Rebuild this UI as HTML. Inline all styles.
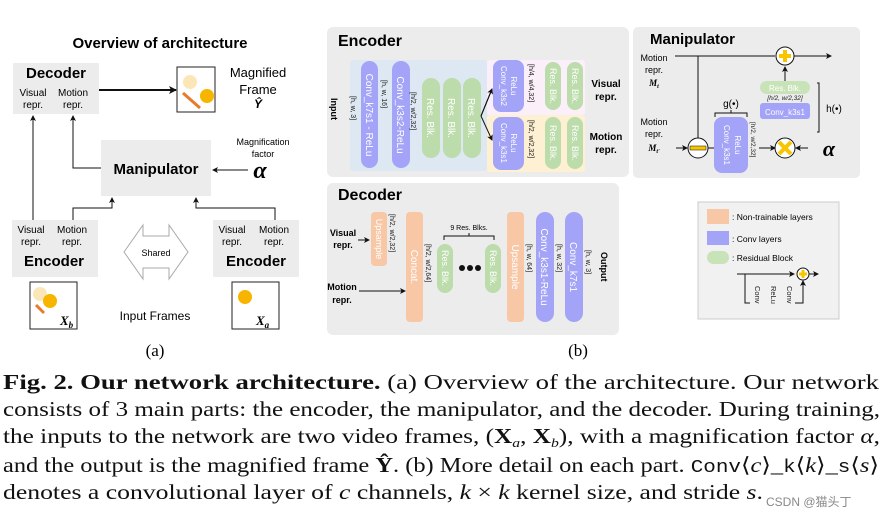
<!DOCTYPE html>
<html><head><meta charset="utf-8"><style>html,body{margin:0;padding:0;background:#fff}svg{display:block}</style></head>
<body>
<svg width="884" height="518" viewBox="0 0 884 518" xmlns="http://www.w3.org/2000/svg" font-family="Liberation Sans, sans-serif">
<defs>
<marker id="ar" markerWidth="8" markerHeight="8" refX="7" refY="4" orient="auto" markerUnits="userSpaceOnUse"><path d="M0,0 L8,4 L0,8 L2,4z" fill="#111"/></marker>
<marker id="ars" markerWidth="6" markerHeight="6" refX="5" refY="3" orient="auto" markerUnits="userSpaceOnUse"><path d="M0,0 L6,3 L0,6 L1.5,3z" fill="#111"/></marker>
</defs>

<!-- ===== Panel (a) ===== -->
<text x="160" y="48" font-size="15" font-weight="bold" text-anchor="middle">Overview of architecture</text>
<rect x="13" y="63" width="86" height="51" fill="#ececec"/>
<text x="56" y="78" font-size="15" font-weight="bold" text-anchor="middle">Decoder</text>
<text font-size="10" text-anchor="middle"><tspan x="33" y="96">Visual</tspan><tspan x="33" y="108">repr.</tspan><tspan x="73" y="96">Motion</tspan><tspan x="73" y="108">repr.</tspan></text>
<line x1="99" y1="90" x2="176" y2="90" stroke="#111" stroke-width="2" marker-end="url(#ar)"/>
<rect x="177" y="67" width="38" height="45" fill="#fff" stroke="#222"/>
<circle cx="190" cy="82" r="7" fill="#fbe6b8"/>
<line x1="183" y1="93" x2="200" y2="108" stroke="#e87a2c" stroke-width="3"/>
<circle cx="207" cy="96" r="7" fill="#f7b500"/>
<text font-size="13" text-anchor="middle"><tspan x="258" y="77">Magnified</tspan><tspan x="258" y="94">Frame</tspan></text>
<text x="258" y="108" font-size="12" font-style="italic" font-weight="bold" text-anchor="middle">Ŷ</text>

<rect x="101" y="140" width="110" height="56" fill="#ececec"/>
<text x="156" y="174" font-size="15" font-weight="bold" text-anchor="middle">Manipulator</text>
<text font-size="9" text-anchor="middle"><tspan x="263" y="145">Magnification</tspan><tspan x="263" y="157">factor</tspan></text>
<text x="260" y="178" font-size="24" font-style="italic" font-weight="bold" font-family="Liberation Serif, serif" text-anchor="middle">α</text>
<line x1="248" y1="170" x2="213" y2="170" stroke="#111" stroke-width="1" marker-end="url(#ars)"/>

<line x1="33" y1="220" x2="33" y2="116" stroke="#111" marker-end="url(#ars)"/>
<path d="M101,168 H73 V116" fill="none" stroke="#111" marker-end="url(#ars)"/>
<path d="M73,220 V208 H112 V198" fill="none" stroke="#111" marker-end="url(#ars)"/>
<path d="M275,220 V208 H196 V198" fill="none" stroke="#111" marker-end="url(#ars)"/>

<rect x="12" y="220" width="86" height="57" fill="#ececec"/>
<text font-size="10" text-anchor="middle"><tspan x="31" y="233">Visual</tspan><tspan x="31" y="245">repr.</tspan><tspan x="72" y="233">Motion</tspan><tspan x="72" y="245">repr.</tspan></text>
<text x="54" y="266" font-size="15" font-weight="bold" text-anchor="middle">Encoder</text>
<rect x="213" y="220" width="86" height="57" fill="#ececec"/>
<text font-size="10" text-anchor="middle"><tspan x="232" y="233">Visual</tspan><tspan x="232" y="245">repr.</tspan><tspan x="274" y="233">Motion</tspan><tspan x="274" y="245">repr.</tspan></text>
<text x="256" y="266" font-size="15" font-weight="bold" text-anchor="middle">Encoder</text>

<path d="M124,252 L143,225 V236 H169 V225 L188,252 L169,279 V268 H143 V279 Z" fill="#fff" stroke="#aaa"/>
<text x="156" y="256" font-size="9" text-anchor="middle">Shared</text>

<rect x="30" y="282" width="47" height="47" fill="#fff" stroke="#222"/>
<circle cx="40" cy="294" r="7" fill="#fbe6b8"/>
<circle cx="50" cy="301" r="7" fill="#f7b500"/>
<line x1="36" y1="305" x2="44" y2="313" stroke="#e87a2c" stroke-width="3"/>
<text x="60" y="325" font-size="13" font-style="italic" font-weight="bold" font-family="Liberation Serif, serif">X<tspan font-size="9" dy="3">b</tspan></text>
<rect x="232" y="282" width="47" height="47" fill="#fff" stroke="#222"/>
<circle cx="245" cy="297" r="7" fill="#f7b500"/>
<text x="256" y="325" font-size="13" font-style="italic" font-weight="bold" font-family="Liberation Serif, serif">X<tspan font-size="9" dy="3">a</tspan></text>
<text x="155" y="320" font-size="12" text-anchor="middle">Input Frames</text>
<text x="155" y="356" font-size="17" font-family="Liberation Serif, serif" text-anchor="middle">(a)</text>

<!-- ===== Encoder ===== -->
<rect x="327" y="27" width="302" height="150" rx="6" fill="#ececec"/>
<text x="338" y="46" font-size="16" font-weight="bold">Encoder</text>
<rect x="350" y="60" width="137" height="111" rx="3" fill="#dde8f3"/>
<rect x="487" y="60" width="98" height="55" rx="3" fill="#fbf0fa"/>
<rect x="487" y="115" width="98" height="57" rx="3" fill="#fdf0d3"/>
<rect x="361" y="61" width="17" height="107" rx="8.5" fill="#a3a3f7"/>
<rect x="392" y="61" width="18" height="107" rx="9" fill="#a3a3f7"/>
<rect x="422" y="78" width="18" height="80" rx="9" fill="#bcdcab"/>
<rect x="443" y="78" width="18" height="80" rx="9" fill="#bcdcab"/>
<rect x="463" y="78" width="18" height="80" rx="9" fill="#bcdcab"/>
<rect x="493" y="60" width="31" height="52" rx="8" fill="#a3a3f7"/>
<rect x="493" y="117" width="31" height="53" rx="8" fill="#a3a3f7"/>
<rect x="545" y="62" width="16" height="48" rx="8" fill="#bcdcab"/>
<rect x="567" y="62" width="16" height="48" rx="8" fill="#bcdcab"/>
<rect x="545" y="117" width="16" height="52" rx="8" fill="#bcdcab"/>
<rect x="567" y="117" width="16" height="52" rx="8" fill="#bcdcab"/>
<g font-size="9" fill="#fff">
<text transform="translate(366,115) rotate(90)" text-anchor="middle" font-size="10">Conv_k7s1 - ReLu</text>
<text transform="translate(397,115) rotate(90)" text-anchor="middle" font-size="10">Conv_k3s2-ReLu</text>
<text transform="translate(427,118) rotate(90)" text-anchor="middle" font-size="10">Res. Blk.</text>
<text transform="translate(448,118) rotate(90)" text-anchor="middle" font-size="10">Res. Blk.</text>
<text transform="translate(468,118) rotate(90)" text-anchor="middle" font-size="10">Res. Blk.</text>
<text transform="translate(511,86) rotate(90)" text-anchor="middle" font-size="8">ReLu</text>
<text transform="translate(501,86) rotate(90)" text-anchor="middle" font-size="8">Conv_k3s2</text>
<text transform="translate(511,143) rotate(90)" text-anchor="middle" font-size="8">ReLu</text>
<text transform="translate(501,143) rotate(90)" text-anchor="middle" font-size="8">Conv_k3s1</text>
<text transform="translate(550,86) rotate(90)" text-anchor="middle">Res. Blk.</text>
<text transform="translate(572,86) rotate(90)" text-anchor="middle">Res. Blk.</text>
<text transform="translate(550,143) rotate(90)" text-anchor="middle">Res. Blk.</text>
<text transform="translate(572,143) rotate(90)" text-anchor="middle">Res. Blk.</text>
</g>
<g font-size="7" fill="#222">
<text transform="translate(351,96) rotate(90)">[h, w, 3]</text>
<text transform="translate(382,80) rotate(90)">[h, w, 16]</text>
<text transform="translate(411,92) rotate(90)">[h/2, w/2,32]</text>
<text transform="translate(529,64) rotate(90)">[h/4, w/4,32]</text>
<text transform="translate(529,120) rotate(90)">[h/2, w/2,32]</text>
</g>
<text transform="translate(331,98) rotate(90)" font-size="9" font-weight="bold">Input</text>
<path d="M481,116 L492,89 M481,116 L492,140" fill="none" stroke="#111" marker-end="url(#ars)"/>
<path d="M481,116 L492,89" fill="none" stroke="#111" marker-end="url(#ars)"/>
<text font-size="10" font-weight="bold" text-anchor="middle"><tspan x="606" y="87">Visual</tspan><tspan x="606" y="100">repr.</tspan><tspan x="606" y="140">Motion</tspan><tspan x="606" y="153">repr.</tspan></text>

<!-- ===== Decoder ===== -->
<rect x="327" y="183" width="292" height="152" rx="6" fill="#ececec"/>
<text x="338" y="200" font-size="16" font-weight="bold">Decoder</text>
<rect x="371" y="212" width="16" height="54" rx="4" fill="#f8c7a6"/>
<rect x="406" y="212" width="17" height="110" rx="4" fill="#f8c7a6"/>
<rect x="437" y="244" width="16" height="49" rx="8" fill="#bcdcab"/>
<rect x="485" y="244" width="16" height="49" rx="8" fill="#bcdcab"/>
<rect x="507" y="212" width="17" height="110" rx="4" fill="#f8c7a6"/>
<rect x="536" y="212" width="18" height="110" rx="9" fill="#a3a3f7"/>
<rect x="565" y="212" width="18" height="110" rx="9" fill="#a3a3f7"/>
<circle cx="462" cy="268" r="3" fill="#111"/><circle cx="470" cy="268" r="3" fill="#111"/><circle cx="478" cy="268" r="3" fill="#111"/>
<path d="M444,240 V236 H494 V240 M469,236 V233" fill="none" stroke="#111"/>
<text x="469" y="230" font-size="7" text-anchor="middle">9 Res. Blks.</text>
<g fill="#fff" font-size="10">
<text transform="translate(376,239) rotate(90)" text-anchor="middle" font-size="9">Upsample</text>
<text transform="translate(411,267) rotate(90)" text-anchor="middle">Concat.</text>
<text transform="translate(442,268) rotate(90)" text-anchor="middle" font-size="9">Res. Blk.</text>
<text transform="translate(490,268) rotate(90)" text-anchor="middle" font-size="9">Res. Blk.</text>
<text transform="translate(512,267) rotate(90)" text-anchor="middle">Upsample</text>
<text transform="translate(541,267) rotate(90)" text-anchor="middle">Conv_k3s1-ReLu</text>
<text transform="translate(570,267) rotate(90)" text-anchor="middle">Conv_k7s1</text>
</g>
<g font-size="7" fill="#222">
<text transform="translate(390,214) rotate(90)">[h/2, w/2,32]</text>
<text transform="translate(426,244) rotate(90)">[h/2, w/2,64]</text>
<text transform="translate(527,244) rotate(90)">[h, w, 64]</text>
<text transform="translate(557,244) rotate(90)">[h, w, 32]</text>
<text transform="translate(586,250) rotate(90)">[h, w, 3]</text>
</g>
<text transform="translate(601,252) rotate(90)" font-size="9" font-weight="bold">Output</text>
<text font-size="9" font-weight="bold" text-anchor="middle"><tspan x="343" y="236">Visual</tspan><tspan x="343" y="248">repr.</tspan><tspan x="342" y="290">Motion</tspan><tspan x="342" y="303">repr.</tspan></text>
<line x1="358" y1="240" x2="369" y2="240" stroke="#111" marker-end="url(#ars)"/>
<line x1="359" y1="291" x2="405" y2="291" stroke="#111" marker-end="url(#ars)"/>
<text x="578" y="356" font-size="17" font-family="Liberation Serif, serif" text-anchor="middle">(b)</text>

<!-- ===== Manipulator ===== -->
<rect x="633" y="27" width="227" height="151" rx="5" fill="#ececec"/>
<text x="650" y="44" font-size="15" font-weight="bold">Manipulator</text>
<text font-size="9" text-anchor="middle"><tspan x="654" y="61">Motion</tspan><tspan x="654" y="73">repr.</tspan><tspan x="654" y="125">Motion</tspan><tspan x="654" y="137">repr.</tspan></text>
<text x="654" y="86" font-size="9" font-weight="bold" font-style="italic" text-anchor="middle" font-family="Liberation Serif, serif">M<tspan font-size="6" dy="2">t</tspan></text>
<text x="654" y="151" font-size="9" font-weight="bold" font-style="italic" text-anchor="middle" font-family="Liberation Serif, serif">M<tspan font-size="6" dy="2">t'</tspan></text>
<line x1="675" y1="56" x2="775" y2="56" stroke="#111"/>
<line x1="794" y1="56" x2="831" y2="56" stroke="#111" marker-end="url(#ars)"/>
<line x1="698" y1="56" x2="698" y2="138" stroke="#111"/>
<line x1="676" y1="148" x2="687" y2="148" stroke="#111" marker-end="url(#ars)"/>
<circle cx="698" cy="148" r="10" fill="#fff" stroke="#111"/>
<rect x="690" y="146" width="16" height="4" fill="#f7c600" stroke="#111" stroke-width="0.5"/>
<line x1="708" y1="148" x2="715" y2="148" stroke="#111"/>
<rect x="714" y="117" width="34" height="56" rx="8" fill="#a3a3f7"/>
<text transform="translate(735,145) rotate(90)" font-size="8" fill="#fff" text-anchor="middle">ReLu</text>
<text transform="translate(724,145) rotate(90)" font-size="8" fill="#fff" text-anchor="middle">Conv_k3s1</text>
<text transform="translate(751,122) rotate(90)" font-size="6.5" fill="#222">[h/2, w/2,32]</text>
<path d="M715,117 V113 H747 V117 M731,113 V110" fill="none" stroke="#111"/>
<text x="731" y="107" font-size="10" text-anchor="middle">g(•)</text>
<line x1="759" y1="148" x2="775" y2="148" stroke="#111" marker-end="url(#ars)"/>
<circle cx="785" cy="148" r="10" fill="#fff" stroke="#111"/>
<path d="M779,142 L791,154 M791,142 L779,154" stroke="#f7c600" stroke-width="4"/>
<line x1="808" y1="148" x2="796" y2="148" stroke="#111" marker-end="url(#ars)"/>
<text x="829" y="156" font-size="22" font-style="italic" font-weight="bold" font-family="Liberation Serif, serif" text-anchor="middle">α</text>
<rect x="760" y="103" width="50" height="16" rx="3" fill="#a3a3f7"/>
<text x="785" y="115" font-size="8" fill="#fff" text-anchor="middle">Conv_k3s1</text>
<text x="785" y="100" font-size="6.5" fill="#222" text-anchor="middle" font-style="italic">[h/2, w/2,32]</text>
<rect x="760" y="81" width="50" height="13" rx="6.5" fill="#c9e3b9"/>
<text x="785" y="91" font-size="8" fill="#fff" text-anchor="middle">Res. Blk.</text>
<line x1="785" y1="81" x2="785" y2="67" stroke="#111" marker-end="url(#ars)"/>
<circle cx="785" cy="56" r="9" fill="#fff" stroke="#111"/>
<path d="M785,50 V62 M779,56 H791" stroke="#f7c600" stroke-width="4"/>
<path d="M817,83 H819 V132 H817" fill="none" stroke="#111"/>
<text x="834" y="112" font-size="10" text-anchor="middle">h(•)</text>

<!-- legend -->
<rect x="698" y="202" width="141" height="117" fill="#f1f1f1" stroke="#ccc"/>
<rect x="707" y="209" width="22" height="15" fill="#f8c7a6"/>
<text x="732" y="220" font-size="8.5">: Non-trainable layers</text>
<rect x="707" y="231" width="22" height="14" fill="#a3a3f7"/>
<text x="732" y="242" font-size="8.5">: Conv layers</text>
<rect x="707" y="251" width="22" height="13" rx="6.5" fill="#c9e3b9"/>
<text x="732" y="261" font-size="8.5">: Residual Block</text>
<line x1="737" y1="274" x2="794" y2="274" stroke="#111" marker-end="url(#ars)"/>
<circle cx="803" cy="274" r="6" fill="#fff" stroke="#111"/>
<path d="M803,270 V278 M799,274 H807" stroke="#f7c600" stroke-width="3"/>
<line x1="809" y1="274" x2="818" y2="274" stroke="#111" marker-end="url(#ars)"/>
<path d="M745,274 V303 H750" fill="none" stroke="#111"/>
<path d="M795,303 H803 V281" fill="none" stroke="#111" marker-end="url(#ars)"/>
<g font-size="7.5" fill="#222">
<text transform="translate(755,286) rotate(90)">Conv</text>
<text transform="translate(771,286) rotate(90)">ReLu</text>
<text transform="translate(787,286) rotate(90)">Conv</text>
</g>

<!-- caption -->
<g font-family="Liberation Serif, serif" font-size="21" fill="#111">
<text x="3" y="389" textLength="876" lengthAdjust="spacingAndGlyphs"><tspan font-weight="bold">Fig. 2. Our network architecture.</tspan> (a) Overview of the architecture. Our network</text>
<text x="3" y="416" textLength="877" lengthAdjust="spacingAndGlyphs">consists of 3 main parts: the encoder, the manipulator, and the decoder. During training,</text>
<text x="3" y="443" textLength="877" lengthAdjust="spacingAndGlyphs">the inputs to the network are two video frames, (<tspan font-weight="bold">X</tspan><tspan font-size="13" font-style="italic" dy="4">a</tspan><tspan dy="-4">, </tspan><tspan font-weight="bold">X</tspan><tspan font-size="13" font-style="italic" dy="4">b</tspan><tspan dy="-4">), with a magnification factor </tspan><tspan font-style="italic">α</tspan>,</text>
<text x="3" y="472" textLength="876" lengthAdjust="spacingAndGlyphs">and the output is the magnified frame <tspan font-weight="bold">Ŷ</tspan>. (b) More detail on each part. <tspan font-family="Liberation Mono, monospace" font-size="18">Conv</tspan>⟨<tspan font-style="italic">c</tspan>⟩_<tspan font-family="Liberation Mono, monospace" font-size="18">k</tspan>⟨<tspan font-style="italic">k</tspan>⟩_<tspan font-family="Liberation Mono, monospace" font-size="18">s</tspan>⟨<tspan font-style="italic">s</tspan>⟩</text>
<text x="3" y="499" textLength="760" lengthAdjust="spacingAndGlyphs">denotes a convolutional layer of <tspan font-style="italic">c</tspan> channels, <tspan font-style="italic">k</tspan> × <tspan font-style="italic">k</tspan> kernel size, and stride <tspan font-style="italic">s</tspan>.</text>
</g>
<text x="766" y="506" font-size="12" fill="#888" font-family="Liberation Sans, 'Noto Sans CJK SC', sans-serif">CSDN @猫头丁</text>
</svg>
</body></html>
